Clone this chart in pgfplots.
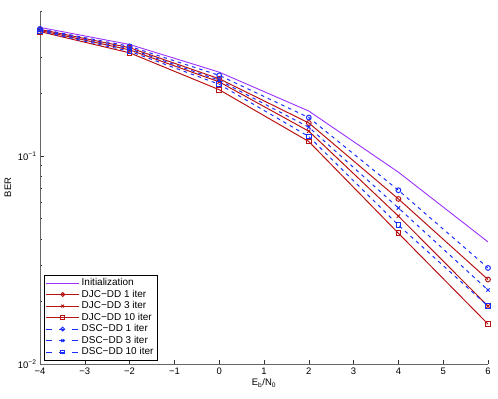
\documentclass[border=0pt]{standalone}
\usepackage{pgfplots}
\pgfplotsset{compat=1.18}
\usepackage{fontspec}
\setmainfont{Liberation Sans}

\definecolor{initc}{RGB}{155,48,255}
\definecolor{djc}{RGB}{185,20,20}
\definecolor{dsc}{RGB}{25,45,255}

% legend sample: line style, mark
\pgfplotsset{
    leg/.style 2 args={legend image code/.code={%
        \draw[#1] (0bp,0bp) -- (33bp,0bp);
        \draw[#1, solid, mark=#2, mark size=1.9pt, mark options={solid}] plot coordinates {(16.5bp,0bp)};}},
}

\begin{document}
\begin{tikzpicture}
\begin{axis}[
    scale only axis,
    width=448bp, height=353bp,
    ymode=log,
    xmin=-4, xmax=6, ymin=0.01, ymax=0.5,
    axis x line=bottom, axis y line=left,
    axis line style={-, gray!80!black, line width=0.9pt},
    tick align=inside,
    major tick length=4bp, minor tick length=2.5bp,
    tick style={gray!40!black, line width=0.6pt},
    xtick={-4,-3,-2,-1,0,1,2,3,4,5,6},
    xticklabels={\textminus4,\textminus3,\textminus2,\textminus1,0,1,2,3,4,5,6},
    ytick={0.01,0.1},
    yticklabels={10\textsuperscript{\textminus2},10\textsuperscript{\textminus1}},
    minor ytick={0.02,0.03,0.04,0.05,0.06,0.07,0.08,0.09,0.2,0.3,0.4,0.5},
    ticklabel style={font=\fontsize{9.5}{11}\selectfont},
    label style={font=\fontsize{9.5}{11}\selectfont},
    xlabel={E\textsubscript{b}/N\textsubscript{0}},
    ylabel={BER},
    xlabel style={yshift=2bp},
    legend style={at={(axis description cs:0.009,0.011)}, anchor=south west,
        font=\fontsize{10}{11}\selectfont,
        inner sep=1.5pt, row sep=-1.2pt,
        nodes={inner sep=2pt}},
    legend cell align=left,
    every axis plot/.append style={mark size=2.4pt, mark options={solid}},
]
\addplot[color=initc, line width=0.9pt, no markers,
    legend image code/.code={\draw[initc, line width=0.9pt] (0bp,0bp) -- (33bp,0bp);}]
    coordinates {(-4,0.417)(-2,0.345)(0,0.254)(2,0.165)(4,0.0838)(6,0.0387)};
\addplot[color=djc, line width=1pt, mark=o, leg={djc, line width=1pt}{o}]
    coordinates {(-4,0.408)(-2,0.333)(0,0.236)(2,0.1446)(4,0.0623)(6,0.0255)};
\addplot[color=djc, line width=1pt, mark=x, leg={djc, line width=1pt}{x}]
    coordinates {(-4,0.403)(-2,0.325)(0,0.228)(2,0.132)(4,0.0515)(6,0.0190)};
\addplot[color=djc, line width=1pt, mark=square, leg={djc, line width=1pt}{square}]
    coordinates {(-4,0.398)(-2,0.3145)(0,0.209)(2,0.1177)(4,0.0426)(6,0.01557)};
\addplot[color=dsc, line width=1pt, dash pattern=on 3.5pt off 4pt, mark=o,
    leg={dsc, line width=1pt, dash pattern=on 6bp off 7bp}{o}]
    coordinates {(-4,0.41)(-2,0.338)(0,0.245)(2,0.1535)(4,0.0686)(6,0.0290)};
\addplot[color=dsc, line width=1pt, dash pattern=on 3.5pt off 4pt, mark=x,
    leg={dsc, line width=1pt, dash pattern=on 6bp off 7bp}{x}]
    coordinates {(-4,0.405)(-2,0.329)(0,0.232)(2,0.138)(4,0.0564)(6,0.0227)};
\addplot[color=dsc, line width=1pt, dash pattern=on 3.5pt off 4pt, mark=square,
    leg={dsc, line width=1pt, dash pattern=on 6bp off 7bp}{square}]
    coordinates {(-4,0.40)(-2,0.320)(0,0.222)(2,0.1244)(4,0.0466)(6,0.0190)};
\legend{Initialization, DJC\textminus DD 1 iter, DJC\textminus DD 3 iter, DJC\textminus DD 10 iter, DSC\textminus DD 1 iter, DSC\textminus DD 3 iter, DSC\textminus DD 10 iter}
\end{axis}
\path (current axis.south west) ++(-40bp,-35bp) rectangle ++(498bp,399bp);
\end{tikzpicture}
\end{document}
